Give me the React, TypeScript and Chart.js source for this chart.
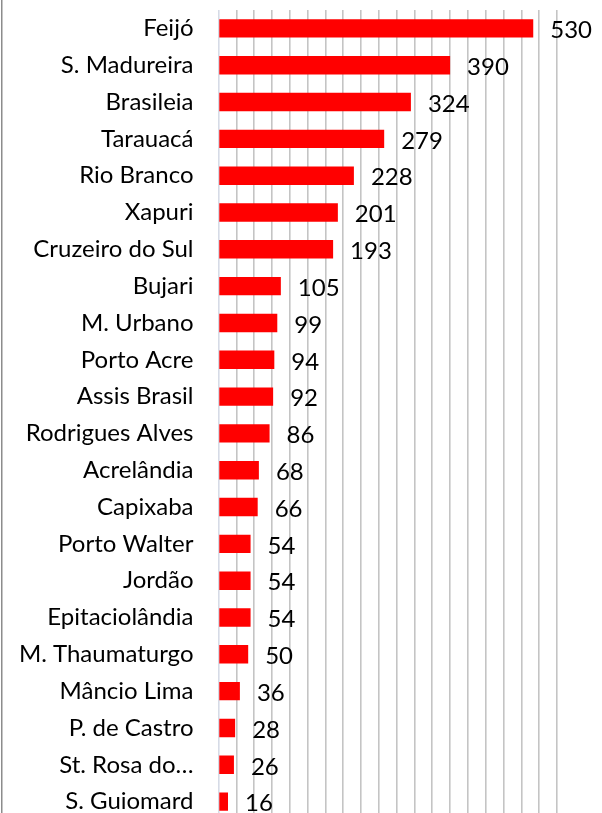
import React, { useEffect, useRef } from "react";
import { Chart, registerables } from "chart.js";

Chart.register(...registerables);

const categories = [
  "Feijó",
  "S. Madureira",
  "Brasileia",
  "Tarauacá",
  "Rio Branco",
  "Xapuri",
  "Cruzeiro do Sul",
  "Bujari",
  "M. Urbano",
  "Porto Acre",
  "Assis Brasil",
  "Rodrigues Alves",
  "Acrelândia",
  "Capixaba",
  "Porto Walter",
  "Jordão",
  "Epitaciolândia",
  "M. Thaumaturgo",
  "Mâncio Lima",
  "P. de Castro",
  "St. Rosa do…",
  "S. Guiomard",
];

const values = [530, 390, 324, 279, 228, 201, 193, 105, 99, 94, 92, 86, 68, 66, 54, 54, 54, 50, 36, 28, 26, 16];

const axisMin = 0;
const axisMax = 570;
const axisStep = 30;

const FONT_FAMILY = "Lato, 'Liberation Sans', sans-serif";
const FONT_SIZE = 24;

const valueLabelPlugin = {
  id: "valueLabels",
  afterDatasetsDraw(chart: any) {
    const ctx = chart.ctx;
    const meta = chart.getDatasetMeta(0);
    ctx.save();
    ctx.font = `${FONT_SIZE}px ${FONT_FAMILY}`;
    ctx.fillStyle = "#000000";
    ctx.textAlign = "left";
    ctx.textBaseline = "middle";
    meta.data.forEach((bar: any, i: number) => {
      ctx.fillText(String(values[i]), bar.x + 17, bar.y + 2);
    });
    ctx.restore();
  },
};

const frameBorderPlugin = {
  id: "frameBorder",
  afterDraw(chart: any) {
    const ctx = chart.ctx;
    ctx.save();
    ctx.fillStyle = "#8c8c8c";
    ctx.fillRect(1, 0, 1.5, chart.height);
    ctx.restore();
  },
};

export default function App() {
  const canvasRef = useRef<HTMLCanvasElement | null>(null);

  useEffect(() => {
    if (!canvasRef.current) return;
    const chart = new Chart(canvasRef.current, {
      type: "bar",
      data: {
        labels: categories,
        datasets: [
          {
            data: values,
            backgroundColor: "#ff0000",
            borderWidth: 0,
            barPercentage: 0.5,
            categoryPercentage: 1,
          },
        ],
      },
      options: {
        indexAxis: "y",
        animation: false,
        responsive: false,
        maintainAspectRatio: false,
        layout: { padding: { top: 10, right: 45, bottom: 0, left: 2 } },
        plugins: {
          legend: { display: false },
          tooltip: { enabled: false },
          title: { display: false },
        },
        scales: {
          x: {
            min: axisMin,
            max: axisMax,
            ticks: { display: false, stepSize: axisStep },
            grid: {
              drawTicks: false,
              lineWidth: 1.6,
              color: (c: any) => (c.tick && c.tick.value === 0 ? "#d6dbe6" : "#c4c4c4"),
            },
            border: { display: false },
            afterFit: (scale: any) => {
              scale.height = 0;
              scale.paddingLeft = 0;
              scale.paddingRight = 0;
            },
          },
          y: {
            afterFit: (scale: any) => {
              scale.width = 216.5;
              scale.paddingTop = 0;
              scale.paddingBottom = 0;
            },
            grid: { display: false, drawTicks: false },
            border: { display: false },
            ticks: {
              padding: 25,
              color: "#000000",
              font: { family: FONT_FAMILY, size: FONT_SIZE },
              autoSkip: false,
            },
          },
        },
      },
      plugins: [valueLabelPlugin, frameBorderPlugin],
    });
    return () => chart.destroy();
  }, []);

  return (
    <div
      style={{
        position: "fixed",
        left: 0,
        top: 0,
        width: 602,
        height: 813,
        overflow: "hidden",
        background: "#ffffff",
      }}
    >
      <canvas ref={canvasRef} width={602} height={820} style={{ display: "block" }} />
    </div>
  );
}
